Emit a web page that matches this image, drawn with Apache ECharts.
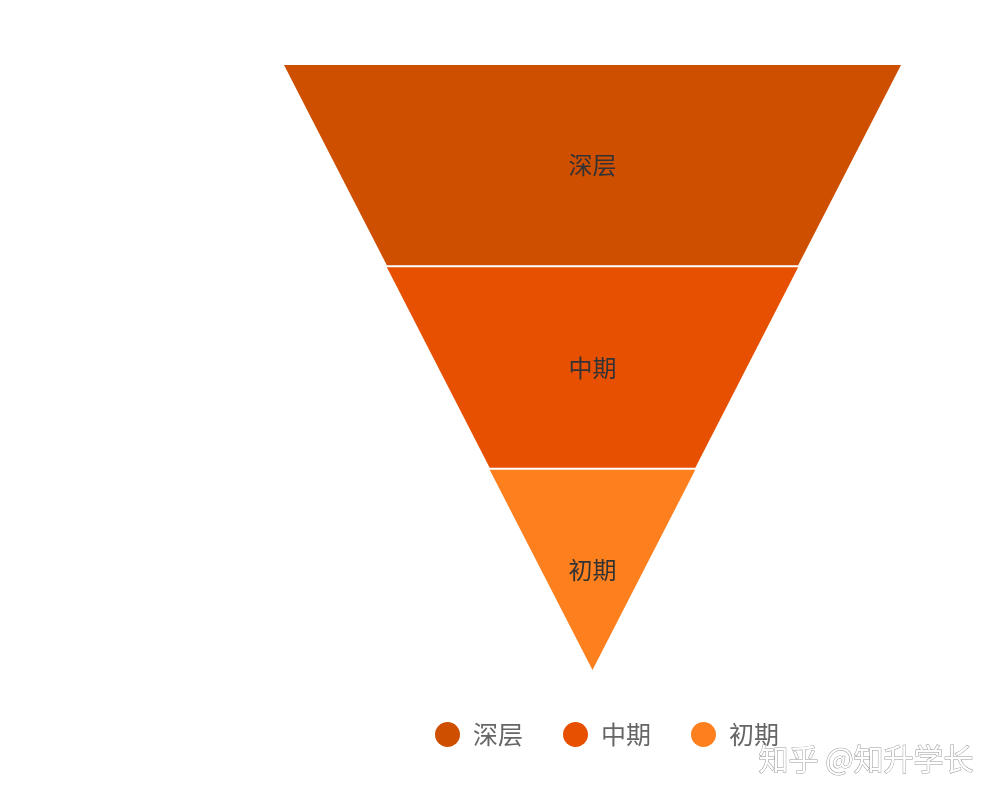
<!DOCTYPE html>
<html><head><meta charset="utf-8">
<script src="https://cdn.jsdelivr.net/npm/echarts@6/dist/echarts.min.js"></script>
<style>html,body{margin:0;padding:0;background:#fff}#c{width:1000px;height:800px}</style>
</head><body><div id="c"></div>
<script>
const categories = ['深层', '中期', '初期'];
const values = [60, 40, 20];
const colors = ['#CF4F01', '#E85001', '#FD7F1E'];

const chart = echarts.init(document.getElementById('c'));
chart.setOption({
  backgroundColor: '#fff',
  color: colors,
  legend: {
    data: categories,
    top: 717,
    left: 430,
    icon: 'circle',
    itemWidth: 25,
    itemHeight: 25,
    itemGap: 40,
    textStyle: { fontSize: 25, color: '#666', fontFamily: 'Noto Sans CJK SC', padding: [0, 0, 0, 8] }
  },
  series: [{
    type: 'funnel',
    left: 284,
    top: 65,
    width: 617,
    height: 605,
    min: 0,
    max: 60,
    sort: 'descending',
    gap: 2,
    label: { show: true, position: 'inside', fontSize: 24, color: '#333', fontFamily: 'Noto Sans CJK SC' },
    labelLine: { show: false },
    itemStyle: { borderWidth: 0 },
    emphasis: { disabled: true },
    data: categories.map((n, i) => ({ name: n, value: values[i] }))
  }],
  graphic: [{
    type: 'text',
    left: 758,
    top: 743,
    style: {
      text: '知乎 @知升学长',
      fontSize: 30,
      fontFamily: 'Noto Sans CJK SC',
      fill: '#fff',
      stroke: '#999',
      lineWidth: 1
    }
  }]
});
</script></body></html>
